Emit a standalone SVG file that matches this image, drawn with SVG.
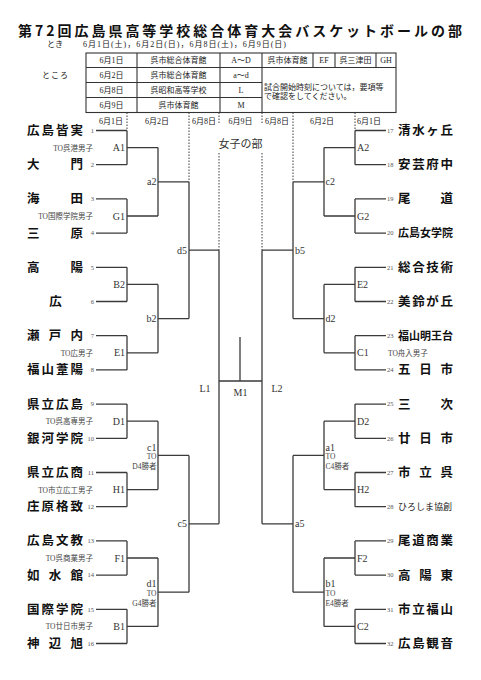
<svg xmlns="http://www.w3.org/2000/svg" width="481" height="680" viewBox="0 0 481 680">
<style>
.ln{stroke:#3a3a3a;stroke-width:1.3;fill:none}
.dot{stroke:#3a3a3a;stroke-width:1;stroke-dasharray:1.5 1.5;fill:none}
.tb{stroke:#333;stroke-width:1.1;fill:none}
.nm{font-family:"Noto Sans CJK JP",sans-serif;font-weight:bold;font-size:12.5px;fill:#111}
.nm5{font-family:"Noto Sans CJK JP",sans-serif;font-weight:bold;font-size:11px;fill:#111}
.no{font-family:"Liberation Serif","Noto Sans CJK JP",serif;font-size:6.5px;fill:#555}
.lb{font-family:"Liberation Serif","Noto Sans CJK JP",serif;font-size:10px;fill:#333}
.to{font-family:"Liberation Serif","Noto Sans CJK JP",serif;font-size:7.5px;fill:#444}
.sm{font-family:"Liberation Serif","Noto Sans CJK JP",serif;font-size:8px;fill:#222}
.tt{font-family:"Noto Sans CJK JP",sans-serif;font-weight:bold;font-size:14px;fill:#111}
.c{text-anchor:middle}
.e{text-anchor:end}
</style>
<g id="header">
<text class="tt" x="18" y="36" textLength="444" lengthAdjust="spacing">第72回広島県高等学校総合体育大会バスケットボールの部</text>
<text class="sm" x="47" y="47">とき</text>
<text class="sm" x="83" y="47" textLength="203" lengthAdjust="spacing">6月1日(土)，6月2日(日)，6月8日(土)，6月9日(日)</text>
<text class="sm" x="42" y="78" textLength="26" lengthAdjust="spacing">ところ</text>
</g>
<g id="table">
<rect class="tb" x="86" y="53" width="310" height="59.5"/>
<path class="tb" d="M86 67.5H396M86 82.5H262M86 97.5H262M137 53V112.5M220 53V112.5M262 53V112.5M313 53V67.5M335 53V67.5M376 53V67.5"/>
<text class="sm c" x="111.5" y="63">6月1日</text>
<text class="sm c" x="178.5" y="63">呉市総合体育館</text>
<text class="sm c" x="241" y="63">A～D</text>
<text class="sm c" x="287.5" y="63">呉市体育館</text>
<text class="sm c" x="324" y="63">EF</text>
<text class="sm c" x="355.5" y="63">呉三津田</text>
<text class="sm c" x="386" y="63">GH</text>
<text class="sm c" x="111.5" y="78">6月2日</text>
<text class="sm c" x="178.5" y="78">呉市総合体育館</text>
<text class="sm c" x="241" y="78">a～d</text>
<text class="sm c" x="111.5" y="93">6月8日</text>
<text class="sm c" x="178.5" y="93">呉昭和高等学校</text>
<text class="sm c" x="241" y="93">L</text>
<text class="sm c" x="111.5" y="108">6月9日</text>
<text class="sm c" x="178.5" y="108">呉市体育館</text>
<text class="sm c" x="241" y="108">M</text>
<text class="sm" x="264" y="90">試合開始時刻については，要項等</text>
<text class="sm" x="264" y="99">で確認をしてください。</text>
</g>
<g id="dates">
<text class="sm c" x="111" y="124">6月1日</text>
<text class="sm c" x="157" y="124">6月2日</text>
<text class="sm c" x="204" y="124">6月8日</text>
<text class="sm c" x="240.5" y="124">6月9日</text>
<text class="sm c" x="277" y="124">6月8日</text>
<text class="sm c" x="322" y="124">6月2日</text>
<text class="sm c" x="369" y="124">6月1日</text>
<text class="c" x="240.5" y="147.5" style="font-family:'Noto Sans CJK JP',sans-serif;font-size:11px;fill:#333">女子の部</text>
</g>
<g id="connectors">
<path class="dot" d="M127 112.5V130.5M189 112.5V181.8M219 112.5V124M219 153V250.2M262 112.5V124M262 153V250.2M293 112.5V181.8M355 112.5V130.5"/>
<path class="ln" d="M96 130.5H127M96 164.7H127M96 198.9H127M96 233.1H127M96 267.3H127M96 301.5H127M96 335.7H127M96 369.9H127M96 404.1H127M96 438.3H127M96 472.5H127M96 506.7H127M96 540.9H127M96 575.1H127M96 609.3H127M96 643.5H127
M127 130.5V164.7M127 198.9V233.1M127 267.3V301.5M127 335.7V369.9M127 404.1V438.3M127 472.5V506.7M127 540.9V575.1M127 609.3V643.5
M127 147.6H158M127 216H158M127 284.4H158M127 352.8H158M127 421.2H158M127 489.6H158M127 558H158M127 626.4H158
M158 147.6V216M158 284.4V352.8M158 421.2V489.6M158 558V626.4
M158 181.8H189M158 318.6H189M158 455.4H189M158 592.2H189
M189 181.8V318.6M189 455.4V592.2
M189 250.2H219M189 523.8H219
M219 250.2V523.8"/>
<path class="ln" d="M355 130.5H386M355 164.7H386M355 198.9H386M355 233.1H386M355 267.3H386M355 301.5H386M355 335.7H386M355 369.9H386M355 404.1H386M355 438.3H386M355 472.5H386M355 506.7H386M355 540.9H386M355 575.1H386M355 609.3H386M355 643.5H386
M355 130.5V164.7M355 198.9V233.1M355 267.3V301.5M355 335.7V369.9M355 404.1V438.3M355 472.5V506.7M355 540.9V575.1M355 609.3V643.5
M324 147.6H355M324 216H355M324 284.4H355M324 352.8H355M324 421.2H355M324 489.6H355M324 558H355M324 626.4H355
M324 147.6V216M324 284.4V352.8M324 421.2V489.6M324 558V626.4
M293 181.8H324M293 318.6H324M293 455.4H324M293 592.2H324
M293 181.8V318.6M293 455.4V592.2
M262 250.2H293M262 523.8H293
M262 250.2V523.8"/>
<path class="ln" d="M219 381H262M240 337V381"/>
</g>
<g id="team-1"><text class="nm" x="27 41.5 56 70.5" y="135">広島皆実</text><text class="no e" x="94" y="132.8">1</text></g>
<g id="team-2"><text class="nm" x="27 70.5" y="169.2">大門</text><text class="no e" x="94" y="167">2</text></g>
<g id="team-3"><text class="nm" x="27 70.5" y="203.4">海田</text><text class="no e" x="94" y="201.2">3</text></g>
<g id="team-4"><text class="nm" x="27 70.5" y="237.6">三原</text><text class="no e" x="94" y="235.4">4</text></g>
<g id="team-5"><text class="nm" x="27 70.5" y="271.8">高陽</text><text class="no e" x="94" y="269.6">5</text></g>
<g id="team-6"><text class="nm c" x="55.5" y="306">広</text><text class="no e" x="94" y="303.8">6</text></g>
<g id="team-7"><text class="nm" x="27 48.75 70.5" y="340.2">瀬戸内</text><text class="no e" x="94" y="338">7</text></g>
<g id="team-8"><text class="nm" x="27 41.5 56 70.5" y="374.4">福山葦陽</text><text class="no e" x="94" y="372.2">8</text></g>
<g id="team-9"><text class="nm" x="27 41.5 56 70.5" y="408.6">県立広島</text><text class="no e" x="94" y="406.4">9</text></g>
<g id="team-10"><text class="nm" x="27 41.5 56 70.5" y="442.8">銀河学院</text><text class="no e" x="94" y="440.6">10</text></g>
<g id="team-11"><text class="nm" x="27 41.5 56 70.5" y="477">県立広商</text><text class="no e" x="94" y="474.8">11</text></g>
<g id="team-12"><text class="nm" x="27 41.5 56 70.5" y="511.2">庄原格致</text><text class="no e" x="94" y="509">12</text></g>
<g id="team-13"><text class="nm" x="27 41.5 56 70.5" y="545.4">広島文教</text><text class="no e" x="94" y="543.2">13</text></g>
<g id="team-14"><text class="nm" x="27 48.75 70.5" y="579.6">如水館</text><text class="no e" x="94" y="577.4">14</text></g>
<g id="team-15"><text class="nm" x="27 41.5 56 70.5" y="613.8">国際学院</text><text class="no e" x="94" y="611.6">15</text></g>
<g id="team-16"><text class="nm" x="27 48.75 70.5" y="648">神辺旭</text><text class="no e" x="94" y="645.8">16</text></g>
<g id="team-17"><text class="nm" x="398 412.2 426.3 440.5" y="135">清水ヶ丘</text><text class="no" x="387" y="132.8">17</text></g>
<g id="team-18"><text class="nm" x="398 412.2 426.3 440.5" y="169.2">安芸府中</text><text class="no" x="387" y="167">18</text></g>
<g id="team-19"><text class="nm" x="398 440.5" y="203.4">尾道</text><text class="no" x="387" y="201.2">19</text></g>
<g id="team-20"><text class="nm5" x="398" y="237.3">広島女学院</text><text class="no" x="387" y="235.4">20</text></g>
<g id="team-21"><text class="nm" x="398 412.2 426.3 440.5" y="271.8">総合技術</text><text class="no" x="387" y="269.6">21</text></g>
<g id="team-22"><text class="nm" x="398 412.2 426.3 440.5" y="306">美鈴が丘</text><text class="no" x="387" y="303.8">22</text></g>
<g id="team-23"><text class="nm5" x="398" y="339.9">福山明王台</text><text class="no" x="387" y="338">23</text></g>
<g id="team-24"><text class="nm" x="398 419.3 440.5" y="374.4">五日市</text><text class="no" x="387" y="372.2">24</text></g>
<g id="team-25"><text class="nm" x="398 440.5" y="408.6">三次</text><text class="no" x="387" y="406.4">25</text></g>
<g id="team-26"><text class="nm" x="398 419.3 440.5" y="442.8">廿日市</text><text class="no" x="387" y="440.6">26</text></g>
<g id="team-27"><text class="nm" x="398 419.3 440.5" y="477">市立呉</text><text class="no" x="387" y="474.8">27</text></g>
<g id="team-28"><text x="398" y="510.3" style="font-family:'Noto Sans CJK JP',sans-serif;font-size:9px;fill:#222">ひろしま協創</text><text class="no" x="387" y="509">28</text></g>
<g id="team-29"><text class="nm" x="398 412.2 426.3 440.5" y="545.4">尾道商業</text><text class="no" x="387" y="543.2">29</text></g>
<g id="team-30"><text class="nm" x="398 419.3 440.5" y="579.6">高陽東</text><text class="no" x="387" y="577.4">30</text></g>
<g id="team-31"><text class="nm" x="398 412.2 426.3 440.5" y="613.8">市立福山</text><text class="no" x="387" y="611.6">31</text></g>
<g id="team-32"><text class="nm" x="398 412.2 426.3 440.5" y="648">広島観音</text><text class="no" x="387" y="645.8">32</text></g>
<g id="match-A1"><text class="lb e" x="125" y="151">A1</text><text class="to e" x="93" y="150.5">TO呉港男子</text></g>
<g id="match-G1"><text class="lb e" x="125" y="219.5">G1</text><text class="to e" x="93" y="219">TO国際学院男子</text></g>
<g id="match-B2"><text class="lb e" x="125" y="288">B2</text></g>
<g id="match-E1"><text class="lb e" x="125" y="356.3">E1</text><text class="to e" x="93" y="355.8">TO広男子</text></g>
<g id="match-D1"><text class="lb e" x="125" y="424.7">D1</text><text class="to e" x="93" y="424.2">TO呉高専男子</text></g>
<g id="match-H1"><text class="lb e" x="125" y="493.1">H1</text><text class="to e" x="93" y="492.6">TO市立広工男子</text></g>
<g id="match-F1"><text class="lb e" x="125" y="561.5">F1</text><text class="to e" x="93" y="561">TO呉商業男子</text></g>
<g id="match-B1"><text class="lb e" x="125" y="629.9">B1</text><text class="to e" x="93" y="629.4">TO廿日市男子</text></g>
<g id="match-a2"><text class="lb e" x="156.5" y="185.3">a2</text></g>
<g id="match-b2"><text class="lb e" x="156.5" y="322.1">b2</text></g>
<g id="match-c1"><text class="lb e" x="156.5" y="450.5">c1</text><text class="to e" x="156.5" y="459">TO</text><text class="to e" x="156.5" y="469">D4勝者</text></g>
<g id="match-d1"><text class="lb e" x="156.5" y="586.5">d1</text><text class="to e" x="156.5" y="595.5">TO</text><text class="to e" x="156.5" y="605.5">G4勝者</text></g>
<g id="match-d5"><text class="lb e" x="187" y="253.7">d5</text></g>
<g id="match-c5"><text class="lb e" x="187" y="527.3">c5</text></g>
<g id="match-L1"><text class="lb c" x="205" y="391.5">L1</text></g>
<g id="match-M1"><text class="lb c" x="240.5" y="395.5">M1</text></g>
<g id="match-L2"><text class="lb c" x="277" y="391.5">L2</text></g>
<g id="match-b5"><text class="lb" x="295" y="253.7">b5</text></g>
<g id="match-a5"><text class="lb" x="295" y="527.3">a5</text></g>
<g id="match-c2"><text class="lb" x="325.5" y="185.3">c2</text></g>
<g id="match-d2"><text class="lb" x="325.5" y="322.1">d2</text></g>
<g id="match-a1"><text class="lb" x="325.5" y="450.5">a1</text><text class="to" x="325.5" y="459">TO</text><text class="to" x="325.5" y="469">C4勝者</text></g>
<g id="match-b1"><text class="lb" x="325.5" y="586.5">b1</text><text class="to" x="325.5" y="595.5">TO</text><text class="to" x="325.5" y="605.5">E4勝者</text></g>
<g id="match-A2"><text class="lb" x="357" y="151">A2</text></g>
<g id="match-G2"><text class="lb" x="357" y="219.5">G2</text></g>
<g id="match-E2"><text class="lb" x="357" y="288">E2</text></g>
<g id="match-C1"><text class="lb" x="357" y="356.3">C1</text><text class="to" x="388" y="355.8">TO舟入男子</text></g>
<g id="match-D2"><text class="lb" x="357" y="424.7">D2</text></g>
<g id="match-H2"><text class="lb" x="357" y="493.1">H2</text></g>
<g id="match-F2"><text class="lb" x="357" y="561.5">F2</text></g>
<g id="match-C2"><text class="lb" x="357" y="629.9">C2</text></g>
</svg>
